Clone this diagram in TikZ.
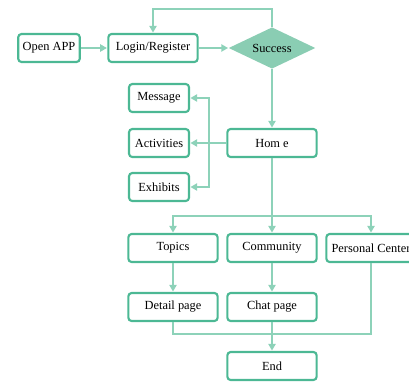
\documentclass[tikz,border=0pt]{standalone}
\usepackage{fontspec}
\setmainfont{Liberation Serif}
\usepackage{tikz}
\usetikzlibrary{shapes.geometric}
\usetikzlibrary{arrows.meta}
\definecolor{boxgreen}{HTML}{4CB894}
\definecolor{linegreen}{HTML}{8DD2B9}
\definecolor{diamondgreen}{HTML}{8ACDB3}
\tikzset{x=0.75pt, y=-0.75pt,
box/.style={ % Sets the properties for each step box
draw=boxgreen,
line width=1.6pt,
rounded corners=2.5pt,
minimum height=21pt,
font=\fontsize{9.3}{11}\selectfont},
bigbox/.style={box, minimum width=67pt},
smallbox/.style={box, minimum width=45pt},
decision/.style={ % The Success check
diamond, aspect=2.1,
fill=diamondgreen,
inner sep=0pt,
minimum width=65pt, minimum height=31pt,
font=\fontsize{9.3}{11}\selectfont},
link/.style={ % Connectors
draw=linegreen,
line width=1pt},
arrow/.style={link, -{Triangle[length=5pt,width=5.5pt]}, shorten >=0.3pt}}

\begin{document}
\begin{tikzpicture}
\useasboundingbox (0,0) rectangle (409,382);
\clip (0,0) rectangle (409,382);
\node[box, minimum width=46pt] (open) at (49,48) {Open APP};
\node[bigbox] (login) at (153,48) {Login/Register};
\node[decision] (success) at (272,48) {Success};
\node[bigbox] (home) at (272,143) {Hom e};
\node[smallbox] (msg) at (159,98) {Message};
\node[smallbox] (act) at (159,143) {Activities};
\node[smallbox] (exh) at (159,187) {Exhibits};
\node[bigbox] (topics) at (173,248) {Topics};
\node[bigbox] (comm) at (272,248) {Community};
\node[bigbox, inner xsep=1pt] (personal) at (371,248) {Personal Center};
\node[bigbox] (detail) at (173,307) {Detail page};
\node[bigbox] (chat) at (272,307) {Chat page};
\node[bigbox] (finish) at (272,366) {End};
\coordinate (hub) at (209,143);
\coordinate (split) at (272,216);
\coordinate (join) at (272,334);
% main line
\draw[arrow] (open) -- (login);
\draw[arrow] (login) -- (success);
\draw[arrow] (success.north) -- ++(0,-18) -| (login.north);
\draw[arrow] (success) -- (home);
% home menu
\draw[link] (home.west) -- (hub);
\draw[arrow] (hub) |- (msg.east);
\draw[arrow] (hub) -- (act.east);
\draw[arrow] (hub) |- (exh.east);
% sections
\draw[arrow] (home) -- (comm);
\draw[arrow] (split) -| (topics.north);
\draw[arrow] (split) -| (personal.north);
\draw[arrow] (topics) -- (detail);
\draw[arrow] (comm) -- (chat);
\draw[link] (detail.south) |- (join);
\draw[link] (personal.south) |- (join);
\draw[arrow] (chat) -- (finish);
\end{tikzpicture}
\end{document}
